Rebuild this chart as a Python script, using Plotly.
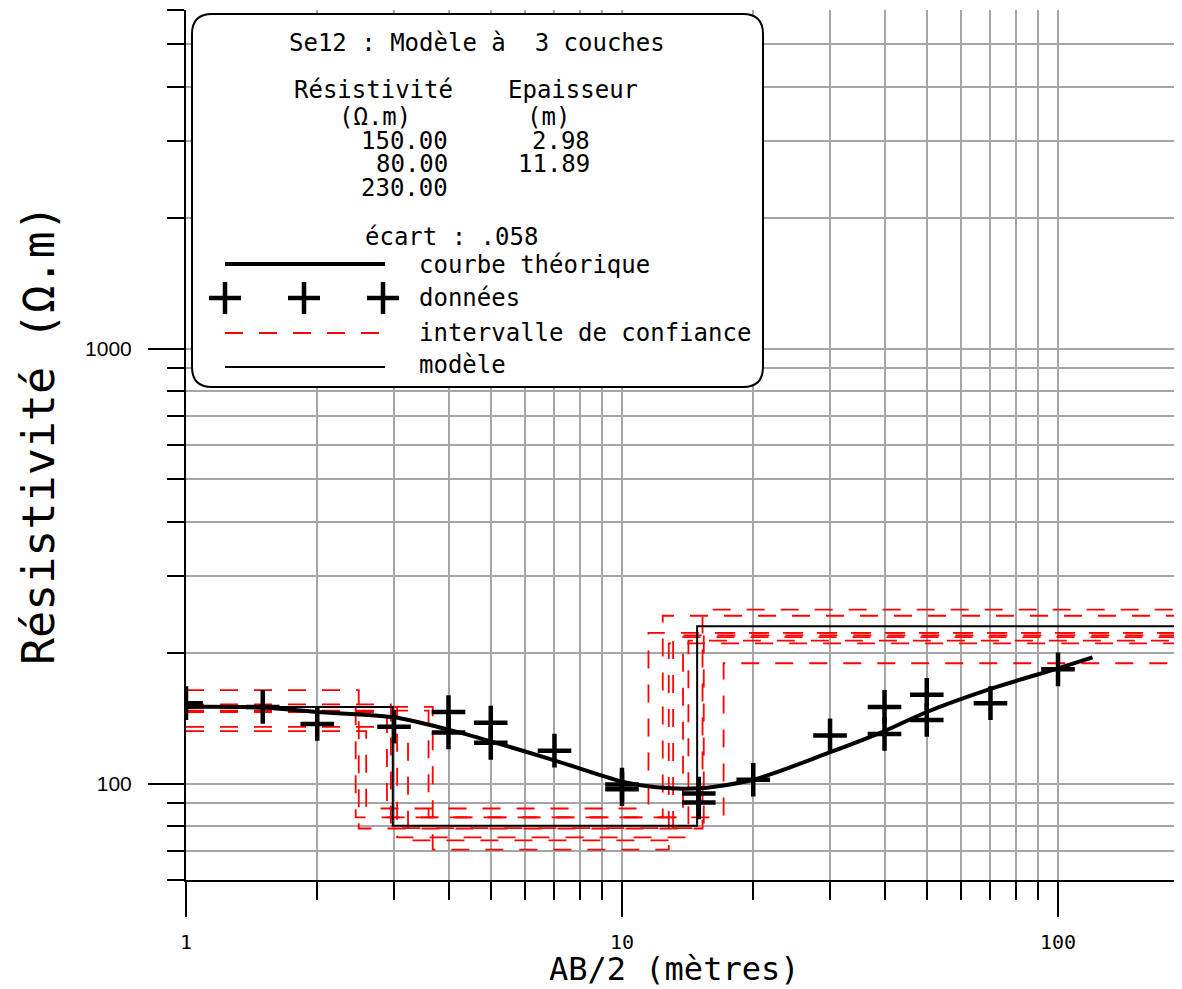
import math
import plotly.graph_objects as go

# ---------------- data ----------------
# observed apparent resistivities (données)
ab2 = [1, 1.5, 2, 3, 4, 4, 5, 5, 7, 10, 10, 15, 15, 20, 30, 40, 40, 50, 50, 70, 100]
rho_obs = [153, 150, 137, 135, 146, 131, 138, 124, 119, 99.5, 97, 94.8, 90.4,
           102, 129, 150, 130, 160, 140, 153, 183]

# theoretical curve (courbe théorique)
curve_x = [1, 1.5, 2, 3, 4, 5, 7, 10, 12, 15, 20, 30, 40, 50, 70, 100, 120]
curve_y = [150, 149.5, 146, 142, 133, 125, 113, 101, 98, 97.5, 102, 118, 132, 146, 165, 184, 195]

# 3-layer model (modèle)
model_rho = [150.0, 80.0, 230.0]
model_thick = [2.98, 11.89]

# equivalent models (intervalle de confiance)
ci_rho1 = [164, 150, 132, 146, 150, 135, 147, 150, 152]
ci_rho2 = [78.8, 83.6, 87.6, 83.6, 75.2, 74.0, 83.6, 70.5, 79.0]
ci_rho3 = [251, 243, 222, 217, 213, 219, 189, 210, 222]
ci_depth1 = [2.49, 2.45, 2.59, 2.89, 3.05, 3.23, 3.60, 3.68, 2.95]
ci_depth2 = [15.3, 12.4, 11.5, 13.8, 14.2, 13.1, 17.1, 12.8, 15.4]

# axes
x_min, x_max = 1.0, 184.5      # visible part of the AB/2 axis
x_end = 200.0                  # models run on past the right edge
y_min, y_max = 60.0, 6000.0
x_major = [1, 10, 100]
x_minor = [2, 3, 4, 5, 6, 7, 8, 9, 20, 30, 40, 50, 60, 70, 80, 90]
y_major = [100, 1000]
y_minor = [60, 70, 80, 90, 200, 300, 400, 500, 600, 700, 800, 900,
           2000, 3000, 4000, 5000, 6000]

# ---------------- layout geometry ----------------
# the page body has an 8px margin: figure is drawn at (8, 8) in the window
OFF = 8
W_FIG, H_FIG = 1182 - 2 * OFF, 989 - OFF
L, T = 186 - OFF, 10 - OFF
PH = 870
PW = W_FIG - L
R = 0
B = H_FIG - T - PH


def px(xp):
    """window x pixel -> paper fraction"""
    return (xp - OFF - L) / PW


def py(yp):
    """window y pixel -> paper fraction"""
    return (T + PH - (yp - OFF)) / PH


MONO = "DejaVu Sans Mono"
GRID = "#a6a6a6"

fig = go.Figure()

# confidence models
for r1, r2, r3, d1, d2 in zip(ci_rho1, ci_rho2, ci_rho3, ci_depth1, ci_depth2):
    fig.add_trace(go.Scatter(
        x=[x_min, d1, d2, x_end], y=[r1, r2, r3, r3],
        mode="lines", line=dict(color="#ff0000", width=1.8, dash="18px,16px", shape="hv"),
        showlegend=False, hoverinfo="skip"))

# model
d_1 = model_thick[0]
d_2 = model_thick[0] + model_thick[1]
fig.add_trace(go.Scatter(
    x=[x_min, d_1, d_2, x_end], y=[model_rho[0], model_rho[1], model_rho[2], model_rho[2]],
    mode="lines", line=dict(color="black", width=2, shape="hv"),
    showlegend=False))

# theoretical curve
fig.add_trace(go.Scatter(
    x=curve_x, y=curve_y, mode="lines",
    line=dict(color="black", width=4, shape="spline", smoothing=0.8),
    showlegend=False))

# data
fig.add_trace(go.Scatter(
    x=ab2, y=rho_obs, mode="markers",
    marker=dict(symbol="cross-thin", size=24, line=dict(color="black", width=4.5)),
    showlegend=False))

axis_common = dict(
    type="log", showline=True, linecolor="black", linewidth=2,
    ticks="outside", tickcolor="black", tickwidth=2,
    showgrid=True, gridcolor=GRID, gridwidth=2, zeroline=False,
)

fig.update_xaxes(
    **axis_common,
    range=[math.log10(x_min), math.log10(x_max)],
    tickmode="array", tickvals=x_major, ticktext=[str(v) for v in x_major],
    ticklen=35, ticklabelstandoff=8,
    tickfont=dict(family=MONO, size=20, color="black"),
    minor=dict(tickmode="array", tickvals=x_minor, ticks="outside", ticklen=18,
               tickwidth=2, tickcolor="black", showgrid=True, gridcolor=GRID, gridwidth=2),
)
fig.update_yaxes(
    **axis_common,
    range=[math.log10(y_min), math.log10(y_max)],
    tickmode="array", tickvals=y_major, ticktext=[str(v) for v in y_major],
    ticklen=36, ticklabelstandoff=12,
    tickfont=dict(family="Liberation Sans", size=21, color="black"),
    minor=dict(tickmode="array", tickvals=y_minor, ticks="outside", ticklen=17,
               tickwidth=2, tickcolor="black", showgrid=True, gridcolor=GRID, gridwidth=2),
)

# ---------------- legend box ----------------
bx0, bx1, by0, by1, rad = 192, 763, 14, 387, 20
rx, ry = rad / PW, rad / PH
X0, X1, Y0, Y1 = px(bx0), px(bx1), py(by1), py(by0)
path = (f"M{X0 + rx},{Y1} L{X1 - rx},{Y1} Q{X1},{Y1} {X1},{Y1 - ry} "
        f"L{X1},{Y0 + ry} Q{X1},{Y0} {X1 - rx},{Y0} "
        f"L{X0 + rx},{Y0} Q{X0},{Y0} {X0},{Y0 + ry} "
        f"L{X0},{Y1 - ry} Q{X0},{Y1} {X0 + rx},{Y1} Z")
shapes = [dict(type="path", xref="paper", yref="paper", path=path,
               line=dict(color="black", width=2), fillcolor="white", layer="above")]


def hline(x0, x1, y, width, dash="solid", color="black"):
    return dict(type="line", xref="paper", yref="paper",
                x0=px(x0), x1=px(x1), y0=py(y), y1=py(y),
                line=dict(color=color, width=width, dash=dash), layer="above")


shapes.append(hline(225, 385, 264, 4))
for cx in (225, 304, 383):
    shapes.append(hline(cx - 16, cx + 16, 298, 4.5))
    shapes.append(dict(type="line", xref="paper", yref="paper",
                       x0=px(cx), x1=px(cx), y0=py(298 - 16), y1=py(298 + 16),
                       line=dict(color="black", width=4.5), layer="above"))
shapes.append(hline(225, 385, 333, 2, dash="18px,16px", color="#ff0000"))
shapes.append(hline(225, 385, 367, 2))

texts = [
    ("Se12 : Modèle à\u00a0\u00a03 couches", 288, 43, "left"),
    ("Résistivité", 293, 90, "left"),
    ("Epaisseur", 507, 90, "left"),
    ("(Ω.m)", 338, 117, "left"),
    ("(m)", 526, 117, "left"),
    (f"{model_rho[0]:.2f}", 449, 141, "right"),
    (f"{model_thick[0]:.2f}", 591, 141, "right"),
    (f"{model_rho[1]:.2f}", 449, 164, "right"),
    (f"{model_thick[1]:.2f}", 591, 164, "right"),
    (f"{model_rho[2]:.2f}", 449, 188, "right"),
    ("écart : .058", 364, 237, "left"),
    ("courbe théorique", 418, 265, "left"),
    ("données", 418, 298, "left"),
    ("intervalle de confiance", 418, 333, "left"),
    ("modèle", 418, 365, "left"),
]
annotations = []
for t, x, y, anc in texts:
    annotations.append(dict(text=t, x=px(x), y=py(y), xref="paper", yref="paper",
                            xanchor=anc, yanchor="middle", showarrow=False,
                            borderpad=0,
                            font=dict(family=MONO, size=24, color="black")))

# axis titles
annotations.append(dict(text="AB/2 (mètres)", x=px(674), y=py(969), xref="paper", yref="paper",
                        xanchor="center", yanchor="middle", showarrow=False,
                        font=dict(family=MONO, size=32, color="black")))
annotations.append(dict(text="Résistivité (Ω.m)", x=px(38), y=py(435), xref="paper", yref="paper",
                        xanchor="center", yanchor="middle", showarrow=False, textangle=-90,
                        font=dict(family=MONO, size=45, color="black")))

fig.update_layout(
    width=W_FIG, height=H_FIG, autosize=False,
    margin=dict(l=L, r=R, t=T, b=B, pad=0),
    paper_bgcolor="white", plot_bgcolor="white",
    showlegend=False, shapes=shapes, annotations=annotations,
)

fig.write_html("out.html")
